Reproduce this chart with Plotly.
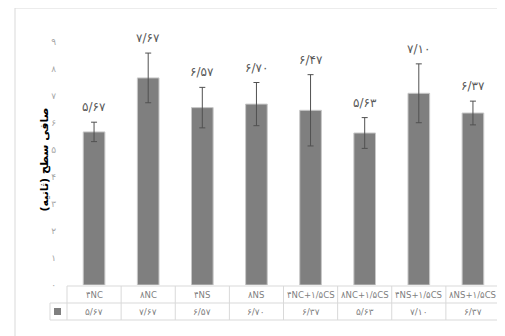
import plotly.graph_objects as go

# ---- data ----
categories = ["۴NC", "۸NC", "۴NS", "۸NS", "۴NC+۱/۵CS", "۸NC+۱/۵CS", "۴NS+۱/۵CS", "۸NS+۱/۵CS"]
values = [5.67, 7.67, 6.57, 6.70, 6.47, 5.63, 7.10, 6.37]
errors = [0.36, 0.92, 0.75, 0.80, 1.32, 0.57, 1.09, 0.44]
bar_labels = ["۵/۶۷", "۷/۶۷", "۶/۵۷", "۶/۷۰", "۶/۴۷", "۵/۶۳", "۷/۱۰", "۶/۳۷"]
table_values = ["۵/۶۷", "۷/۶۷", "۶/۵۷", "۶/۷۰", "۶/۳۷", "۵/۶۳", "۷/۱۰", "۶/۳۷"]
y_tick_vals = [0, 1, 2, 3, 4, 5, 6, 7, 8, 9]
y_tick_text = ["۰", "۱", "۲", "۳", "۴", "۵", "۶", "۷", "۸", "۹"]
y_title = "صافی سطح (ثانیه)"

# page body margin offset (8px) compensated
OFF = 8
W, H = 505 - OFF, 336 - OFF
PL, PR, PT, PB = 67, 500, 15, 285   # plot area in page pixels
ML = PL - OFF
MT = PT - OFF
MR = W - (PR - OFF)
MB = H - (PB - OFF)
PW = W - ML - MR
PH = H - MT - MB

def px_x(p):
    return (p - OFF - ML) / PW

def px_y(p):
    return (H - MB - (p - OFF)) / PH

n = len(categories)
xs = list(range(n))

fig = go.Figure()
fig.add_trace(go.Bar(
    x=xs, y=values,
    marker=dict(color="#7f7f7f", line=dict(color="#c8c8c8", width=1)),
    error_y=dict(type="data", array=errors, visible=True, color="#505050", thickness=1, width=3),
    width=0.4,
    showlegend=False,
    hoverinfo="skip",
))

annotations = []
for i, (v, e, lab) in enumerate(zip(values, errors, bar_labels)):
    annotations.append(dict(x=i, y=v + e, xref="x", yref="y", text=lab, showarrow=False,
                            yshift=15, font=dict(family="DejaVu Sans", size=12, color="#595959")))

# table
row_top = px_y(286)
row_mid = px_y(303)
row_bot = px_y(320)
key_left = px_x(50)
line_col = "#d9d9d9"
shapes = []
shapes.append(dict(type="line", xref="paper", yref="paper", x0=0, x1=1, y0=row_top, y1=row_top,
                   line=dict(color=line_col, width=1)))
shapes.append(dict(type="line", xref="paper", yref="paper", x0=key_left, x1=1, y0=row_mid, y1=row_mid,
                   line=dict(color=line_col, width=1)))
shapes.append(dict(type="line", xref="paper", yref="paper", x0=key_left, x1=1, y0=row_bot, y1=row_bot,
                   line=dict(color=line_col, width=1)))
for k in range(n + 1):
    xp = k / n
    shapes.append(dict(type="line", xref="paper", yref="paper", x0=xp, x1=xp, y0=row_top, y1=row_bot,
                       line=dict(color=line_col, width=1)))
shapes.append(dict(type="line", xref="paper", yref="paper", x0=key_left, x1=key_left, y0=row_mid, y1=row_bot,
                   line=dict(color=line_col, width=1)))
shapes.append(dict(type="rect", xref="paper", yref="paper", x0=px_x(54), x1=px_x(61), y0=px_y(308), y1=px_y(315),
                   fillcolor="#7f7f7f", line=dict(width=0)))
# outer chart border: top and left edges only (right/bottom lie outside the view)
shapes.append(dict(type="line", xref="paper", yref="paper", x0=px_x(15), x1=px_x(505 + OFF), y0=px_y(8), y1=px_y(8),
                   line=dict(color="#d9d9d9", width=1)))
shapes.append(dict(type="line", xref="paper", yref="paper", x0=px_x(15), x1=px_x(15), y0=px_y(8), y1=px_y(336 + OFF),
                   line=dict(color="#d9d9d9", width=1)))

for i, (c, tv) in enumerate(zip(categories, table_values)):
    annotations.append(dict(x=i, y=(row_top + row_mid) / 2, xref="x", yref="paper", text=c, showarrow=False,
                            font=dict(family="DejaVu Sans Condensed, DejaVu Sans", size=9.5, color="#7f7f7f"),
                            yanchor="middle"))
    annotations.append(dict(x=i, y=(row_mid + row_bot) / 2, xref="x", yref="paper", text=tv, showarrow=False,
                            font=dict(family="DejaVu Sans", size=9, color="#7f7f7f"), yanchor="middle"))

annotations.append(dict(x=px_x(36), y=px_y(160), xref="paper", yref="paper", text="<b>" + y_title + "</b>",
                        textangle=-90, showarrow=False,
                        font=dict(family="DejaVu Sans", size=11, color="#000000")))

fig.update_layout(
    width=W, height=H,
    margin=dict(l=ML, r=MR, t=MT, b=MB),
    paper_bgcolor="white", plot_bgcolor="white",
    xaxis=dict(range=[-0.5, n - 0.5], showticklabels=False, showgrid=False, zeroline=False,
               showline=False, ticks=""),
    yaxis=dict(range=[0, 10], tickvals=y_tick_vals, ticktext=y_tick_text, showgrid=False,
               zeroline=False, showline=False, ticks="outside", ticklen=8, tickcolor="rgba(0,0,0,0)",
               tickfont=dict(family="DejaVu Sans", size=9, color="#a6a6a6")),
    shapes=shapes,
    annotations=annotations,
    bargap=0.6,
)

fig.write_html("out.html")
